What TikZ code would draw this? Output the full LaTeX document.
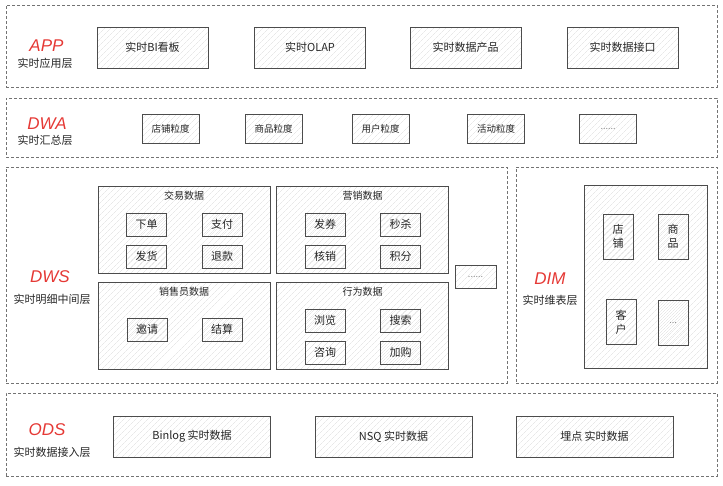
\documentclass[tikz,border=0pt]{standalone}
\usepackage{fontspec}
\setmainfont{Noto Sans CJK SC}
\newfontfamily\tagfont{Liberation Sans}
\usetikzlibrary{patterns.meta,positioning}
\definecolor{tagred}{RGB}{229,57,53}
\tikzset{
  layer/.style={draw=black!55, line width=0.8pt, dash pattern=on 3pt off 2pt,
    inner sep=0pt, minimum width=711pt},
  hatch/.style={draw=black!70, line width=0.9pt,
    pattern={Lines[angle=45,distance=4pt,line width=0.4pt]}, pattern color=black!14,
    inner sep=0pt, text=black!85},
  leaf/.style={hatch, minimum width=40pt, minimum height=23pt,
    font=\fontsize{11}{13}\selectfont},
  tag/.style={text=tagred, font=\tagfont\itshape\fontsize{17}{17}\selectfont, inner sep=0pt},
  sub/.style={text=black!85, font=\fontsize{11}{13}\selectfont, inner sep=0pt},
  dots/.style={text=black!45, font=\fontsize{9}{11}\selectfont}
}

\begin{document}
\begin{tikzpicture}[x=1pt, y=-1pt]
\useasboundingbox (0,0) rectangle (723,485);

% Dashed layer frames
\node[layer, minimum height=82pt] (app) at (361.5,46) {};
\node[layer, minimum height=59pt] (dwa) at (361.5,127.5) {};
\node[layer, minimum width=501pt, minimum height=216pt] (dws) at (256.5,275) {};
\node[layer, minimum width=201pt, minimum height=216pt] (dim) at (616.5,275) {};
\node[layer, minimum height=83pt] (ods) at (361.5,434.5) {};

% Layer names
\foreach \name/\tagtext/\tx/\ty/\subtext/\sx/\sy in {
    app/APP/46.5/46/实时应用层/45/63,
    dwa/DWA/47/124/实时汇总层/45/140,
    dws/DWS/50/277/实时明细中间层/52/299,
    dim/DIM/550/279/实时维表层/550/300,
    ods/ODS/47/430/实时数据接入层/52/452} {
  \node[tag] (\name-tag) at (\tx,\ty) {\tagtext};
  \node[sub] (\name-sub) at (\sx,\sy) {\subtext};
}

% APP
\foreach \x/\txt [count=\i] in {152.5/实时BI看板, 310/实时OLAP, 465.5/实时数据产品, 622.5/实时数据接口} {
  \node[hatch, minimum width=111pt, minimum height=41pt,
    font=\fontsize{11}{13}\selectfont] (app\i) at (\x,47.5) {\txt};
}

% DWA
\foreach \x/\txt [count=\i] in {170.5/店铺粒度, 273.5/商品粒度, 380.5/用户粒度, 496/活动粒度} {
  \node[hatch, minimum width=57pt, minimum height=29pt,
    font=\fontsize{9.5}{11}\selectfont] (dwa\i) at (\x,128.5) {\txt};
}
\node[hatch, minimum width=57pt, minimum height=29pt, dots] (dwa5) at (608,128.5) {......};

% DWS groups
\foreach \gx/\gy/\name/\title in {184/229.5/trade/交易数据, 362.5/229.5/mkt/营销数据,
    184/325.5/sales/销售员数据, 362.5/325.5/act/行为数据} {
  \node[hatch, minimum width=172pt, minimum height=87pt] (\name) at (\gx,\gy) {};
  \node[sub, font=\fontsize{10}{12}\selectfont, below=5pt of \name.north] (\name-title) {\title};
}
\foreach \g/\a/\b/\c/\d in {trade/下单/支付/发货/退款, mkt/发券/秒杀/核销/积分, act/浏览/搜索/咨询/加购} {
  \node[leaf] (\g-1) at ([shift={(-37.5,-5)}]\g.center) {\a};
  \node[leaf] (\g-2) at ([shift={(38,-5)}]\g.center) {\b};
  \node[leaf] (\g-3) at ([shift={(-37.5,27)}]\g.center) {\c};
  \node[leaf] (\g-4) at ([shift={(38,27)}]\g.center) {\d};
}
\node[leaf] (sales-1) at ([shift={(-37,4)}]sales.center) {邀请};
\node[leaf] (sales-2) at ([shift={(38,4)}]sales.center) {结算};
\node[hatch, minimum width=41pt, minimum height=23pt, dots] (dws-more) at (475.5,276.5) {......};

% DIM
\node[hatch, minimum width=123pt, minimum height=183pt] (dimbox) at (645.5,276.5) {};
\foreach \x/\y/\txt [count=\i] in {618/236.5/店\\铺, 673/236.5/商\\品, 621/322/客\\户} {
  \node[leaf, minimum width=30pt, minimum height=45pt, align=center,
    font=\fontsize{11}{14}\selectfont] (dim\i) at (\x,\y) {\txt};
}
\node[leaf, minimum width=30pt, minimum height=45pt, dots] (dim4) at (673,323) {...};

% ODS
\foreach \x/\txt [count=\i] in {192/Binlog 实时数据, 393.5/NSQ 实时数据, 594.5/埋点 实时数据} {
  \node[hatch, minimum width=157pt, minimum height=41pt,
    font=\fontsize{11}{13}\selectfont] (ods\i) at (\x,436.5) {\txt};
}
\end{tikzpicture}
\end{document}
